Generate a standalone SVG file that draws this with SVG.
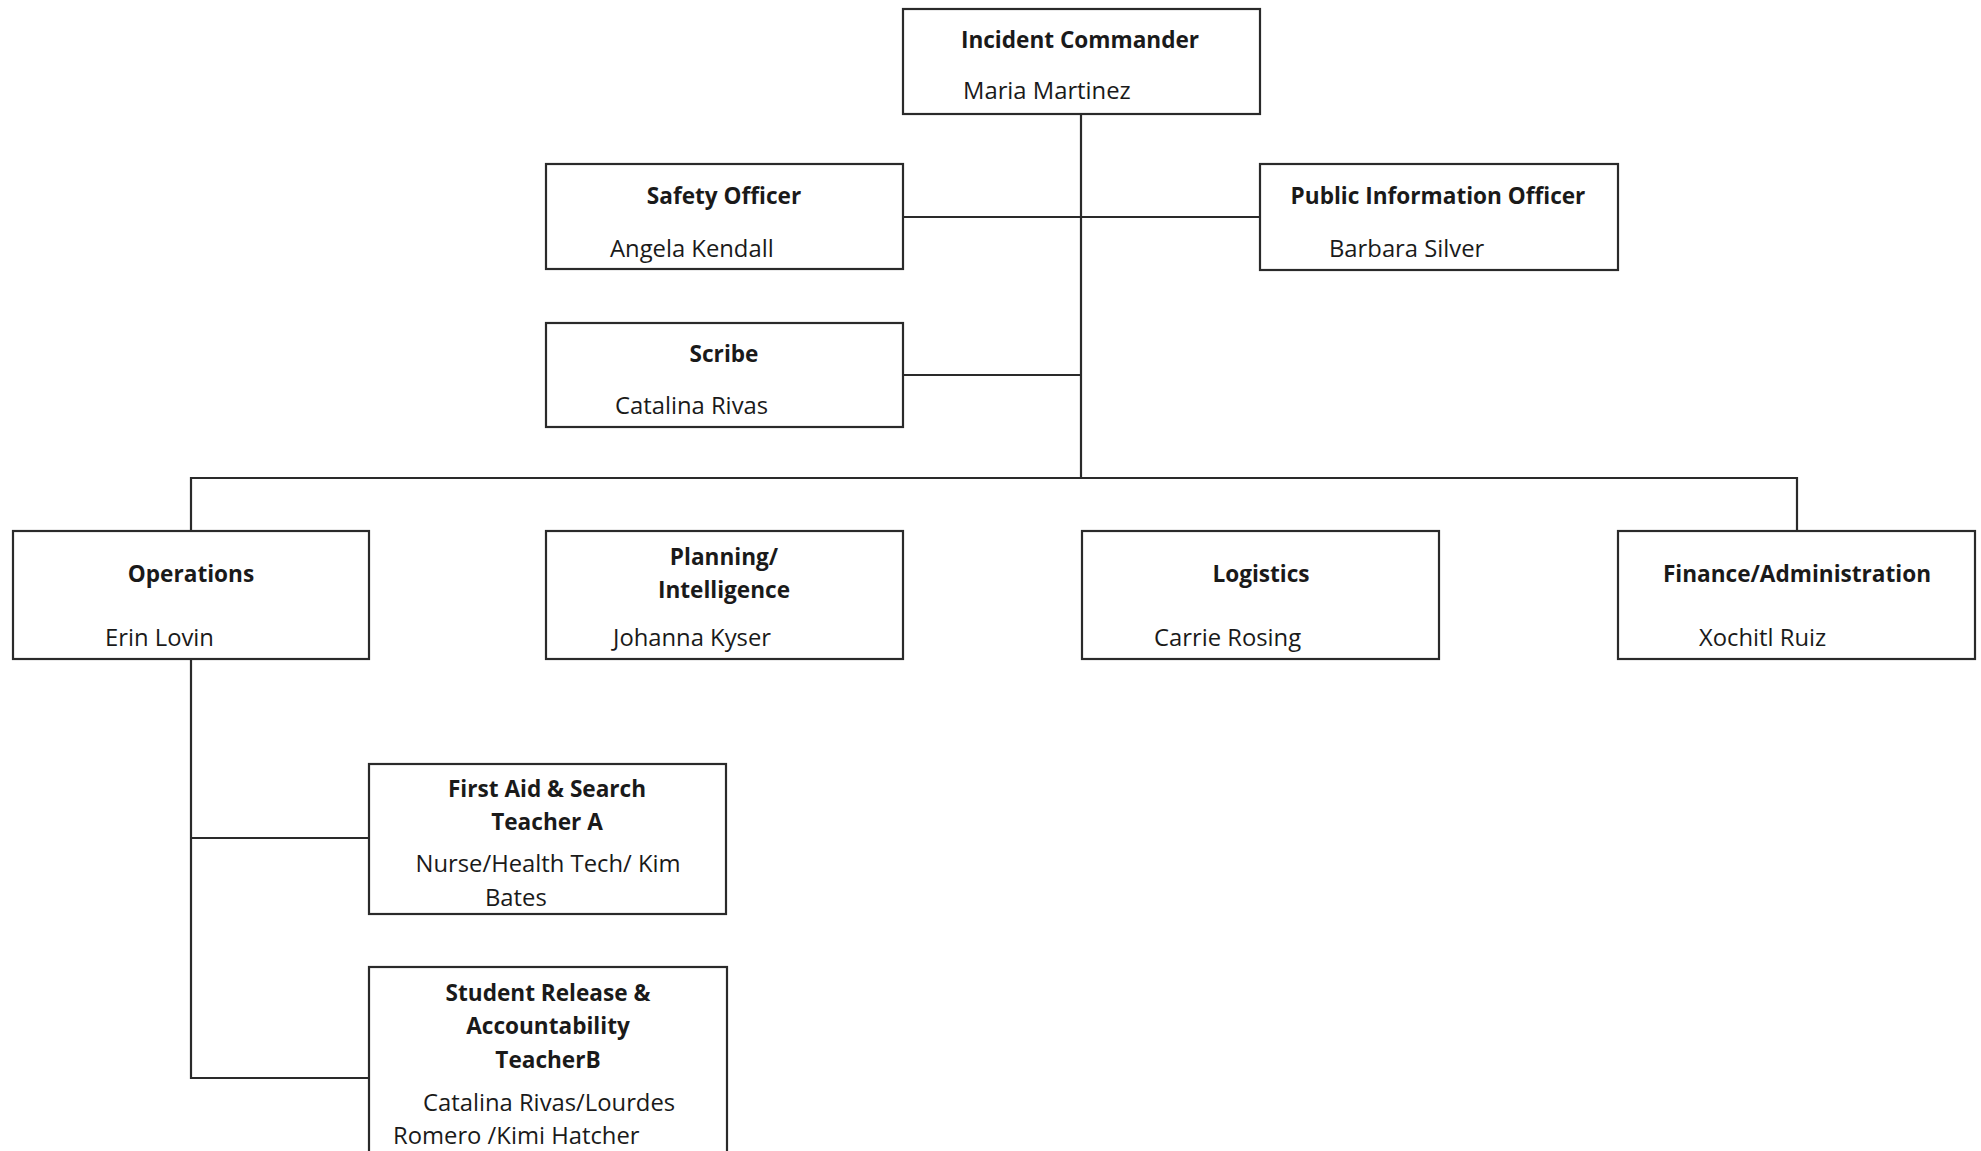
<svg xmlns="http://www.w3.org/2000/svg" width="1981" height="1151" viewBox="0 0 1981 1151">
<style>
.box{fill:#fff;stroke:#2a2a2a;stroke-width:2.2}
.ln{fill:none;stroke:#2a2a2a;stroke-width:2.2}
.t{font-family:"Open Sans","Noto Sans",sans-serif;font-size:23.8px;fill:#1a1a1a}
.b{font-weight:bold;text-anchor:middle;font-size:22.6px}
.c{text-anchor:middle}
</style>
<rect width="1981" height="1151" fill="#fff"/>
<g id="connectors">
<path class="ln" d="M1081,114 V478"/>
<path class="ln" d="M903,217 H1260"/>
<path class="ln" d="M903,375 H1081"/>
<path class="ln" d="M191,531 V478 H1797 V531"/>
<path class="ln" d="M191,659 V1078 H369"/>
<path class="ln" d="M191,838 H369"/>
</g>
<g id="incident-commander">
<rect class="box" x="903" y="9" width="357" height="105"/>
<text class="t b" x="1080" y="48">Incident Commander</text>
<text class="t" x="963" y="99">Maria Martinez</text>
</g>
<g id="safety-officer">
<rect class="box" x="546" y="164" width="357" height="105"/>
<text class="t b" x="724" y="204">Safety Officer</text>
<text class="t" x="610" y="257">Angela Kendall</text>
</g>
<g id="public-information-officer">
<rect class="box" x="1260" y="164" width="358" height="106"/>
<text class="t b" x="1438" y="204">Public Information Officer</text>
<text class="t" x="1329" y="257">Barbara Silver</text>
</g>
<g id="scribe">
<rect class="box" x="546" y="323" width="357" height="104"/>
<text class="t b" x="724" y="362">Scribe</text>
<text class="t" x="615" y="414">Catalina Rivas</text>
</g>
<g id="operations">
<rect class="box" x="13" y="531" width="356" height="128"/>
<text class="t b" x="191" y="582">Operations</text>
<text class="t" x="105" y="646">Erin Lovin</text>
</g>
<g id="planning-intelligence">
<rect class="box" x="546" y="531" width="357" height="128"/>
<text class="t b" x="724" y="565">Planning/</text>
<text class="t b" x="724" y="598">Intelligence</text>
<text class="t" x="613" y="646">Johanna Kyser</text>
</g>
<g id="logistics">
<rect class="box" x="1082" y="531" width="357" height="128"/>
<text class="t b" x="1261" y="582">Logistics</text>
<text class="t" x="1154" y="646">Carrie Rosing</text>
</g>
<g id="finance-administration">
<rect class="box" x="1618" y="531" width="357" height="128"/>
<text class="t b" x="1797" y="582">Finance/Administration</text>
<text class="t" x="1699" y="646">Xochitl Ruiz</text>
</g>
<g id="first-aid-search">
<rect class="box" x="369" y="764" width="357" height="150"/>
<text class="t b" x="547" y="797">First Aid &amp; Search</text>
<text class="t b" x="547" y="830">Teacher A</text>
<text class="t c" x="548" y="872">Nurse/Health Tech/ Kim</text>
<text class="t" x="485" y="906">Bates</text>
</g>
<g id="student-release-accountability">
<rect class="box" x="369" y="967" width="358" height="200"/>
<text class="t b" x="548" y="1001">Student Release &amp;</text>
<text class="t b" x="548" y="1034">Accountability</text>
<text class="t b" x="548" y="1068">TeacherB</text>
<text class="t" x="423" y="1111">Catalina Rivas/Lourdes</text>
<text class="t" x="393" y="1144">Romero /Kimi Hatcher</text>
</g>
</svg>
